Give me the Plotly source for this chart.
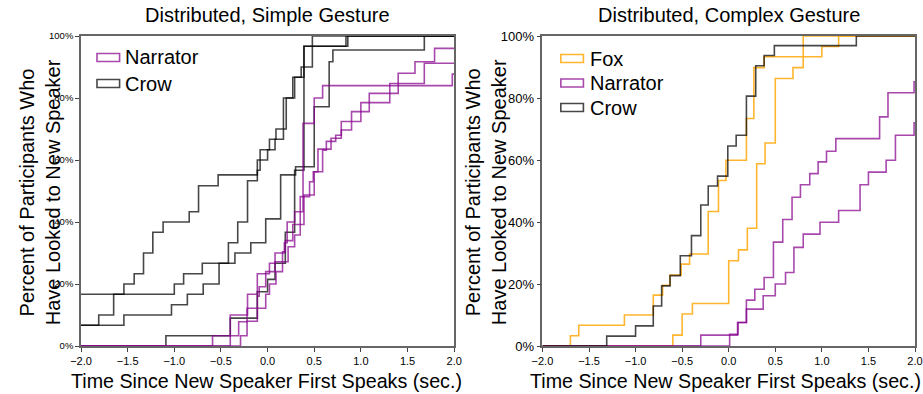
import plotly.graph_objects as go

# ---------------- data (time in sec, cumulative percent) ----------------
# Left panel: Distributed, Simple Gesture
simple_crow_a_t = [-2.0, -1.00, -0.90, -0.70, -0.42, -0.32, -0.215, -0.11, -0.08, 0.0, 0.08, 0.17, 0.27, 0.36, 0.48]
simple_crow_a_p = [16.7, 20.0, 23.3, 26.7, 33.3, 40.0, 53.3, 56.7, 60.0, 63.3, 66.7, 80.0, 86.7, 90.0, 100.0]

simple_crow_b_t = [-2.0, -1.81, -1.65, -1.54, -1.43, -1.33, -1.23, -1.12, -0.84, -0.74, -0.53, -0.11, -0.08, 0.02, 0.09, 0.20, 0.29, 0.39, 0.86]
simple_crow_b_p = [6.7, 10.0, 16.7, 20.0, 23.3, 30.0, 36.7, 40.0, 43.3, 51.7, 55.2, 60.0, 63.3, 66.7, 70.0, 80.0, 86.7, 96.7, 100.0]

simple_crow_c_t = [-2.0, -1.54, -1.03, -0.86, -0.69, -0.52, -0.35, -0.18, -0.02, 0.14, 0.30, 0.50, 0.66, 0.70, 1.68]
simple_crow_c_p = [6.7, 10.0, 13.3, 16.7, 20.0, 26.7, 30.0, 33.3, 41.0, 55.2, 57.8, 77.2, 91.7, 95.5, 100.0]

simple_crow_d_t = [-2.0, -1.09, -0.40, -0.11, 0.0, 0.08, 0.19, 0.29, 0.39, 0.84]
simple_crow_d_p = [0.0, 3.3, 9.0, 17.5, 21.5, 26.7, 36.7, 56.7, 96.7, 100.0]

simple_narr_a_t = [-2.0, -0.59, -0.40, -0.215, -0.11, 0.02, 0.08, 0.18, 0.21, 0.29, 0.38, 0.50, 0.59, 1.98]
simple_narr_a_p = [0.0, 3.3, 10.0, 16.7, 23.3, 26.7, 30.0, 33.3, 40.0, 43.3, 71.8, 80.0, 84.0, 87.7]

simple_narr_b_t = [-2.0, -0.40, -0.31, -0.22, -0.11, -0.09, -0.02, 0.08, 0.16, 0.19, 0.27, 0.39, 0.50, 0.59, 0.63, 0.73, 0.79, 0.90, 1.00, 1.09, 1.31, 1.40, 1.58, 1.79]
simple_narr_b_p = [0.0, 3.3, 7.8, 12.2, 16.1, 19.1, 24.0, 27.2, 30.4, 34.0, 39.2, 48.7, 56.2, 63.2, 66.0, 68.0, 72.4, 75.6, 78.5, 81.5, 84.7, 88.0, 91.7, 96.0]

simple_narr_c_t = [-2.0, -0.29, -0.22, -0.11, -0.02, 0.02, 0.09, 0.16, 0.22, 0.29, 0.35, 0.45, 0.49, 0.54, 0.68, 0.79, 0.90, 1.00, 1.09, 1.31, 1.40, 1.68]
simple_narr_c_p = [0.0, 3.3, 8.0, 12.2, 16.7, 20.0, 24.0, 27.2, 32.0, 35.8, 48.2, 53.0, 56.2, 63.5, 67.0, 69.7, 72.4, 75.6, 78.5, 81.5, 84.7, 91.2]

# Right panel: Distributed, Complex Gesture
complex_fox_a_t = [-2.0, -1.70, -1.61, -1.12, -0.81, -0.71, -0.63, -0.51, -0.42, -0.22, -0.11, -0.03, 0.19, 0.27, 0.38, 1.00, 1.18]
complex_fox_a_p = [0.0, 3.3, 6.7, 10.0, 16.4, 19.6, 22.9, 26.4, 29.7, 43.4, 53.4, 59.9, 73.4, 89.8, 93.3, 96.6, 100.0]

complex_fox_b_t = [-2.0, -0.60, -0.50, -0.39, 0.0, 0.105, 0.20, 0.30, 0.39, 0.50, 0.69, 0.80]
complex_fox_b_p = [0.0, 3.5, 10.3, 13.7, 27.5, 31.0, 38.0, 58.8, 65.5, 86.3, 89.8, 100.0]

complex_narr_a_t = [-2.0, -0.30, 0.095, 0.19, 0.28, 0.38, 0.48, 0.58, 0.68, 0.77, 0.87, 0.96, 1.05, 1.15, 1.62, 1.71, 1.99]
complex_narr_a_p = [0.0, 3.5, 7.6, 14.8, 18.3, 22.1, 33.5, 40.8, 48.0, 52.0, 55.6, 59.4, 62.8, 66.9, 73.9, 81.7, 85.2]

complex_narr_b_t = [-2.0, 0.01, 0.10, 0.19, 0.37, 0.50, 0.61, 0.70, 0.80, 0.98, 1.18, 1.41, 1.50, 1.69, 1.79, 1.99]
complex_narr_b_p = [0.0, 3.8, 7.6, 11.9, 16.2, 20.0, 23.7, 31.8, 36.1, 39.9, 43.7, 52.0, 56.1, 59.9, 68.0, 72.0]

complex_crow_t = [-2.0, -1.31, -1.00, -0.81, -0.72, -0.63, -0.52, -0.40, -0.30, -0.22, -0.12, -0.01, 0.08, 0.19, 0.29, 0.38, 0.49, 1.37]
complex_crow_p = [0.0, 3.2, 6.5, 12.9, 19.4, 22.7, 29.1, 35.6, 45.5, 51.6, 54.8, 64.5, 68.0, 80.6, 90.4, 93.7, 96.9, 100.0]

x_ticks = [-2.0, -1.5, -1.0, -0.5, 0.0, 0.5, 1.0, 1.5, 2.0]
y_ticks = [0, 20, 40, 60, 80, 100]
y_tick_text = [f"{v}%" for v in y_ticks]

simple_legend = ["Narrator", "Crow"]
complex_legend = ["Fox", "Narrator", "Crow"]

# ---------------- style ----------------
FONT = "Liberation Sans, Arial, sans-serif"
C_CROW = "rgba(0,0,0,0.72)"
C_NARR = "rgba(135,0,140,0.72)"
C_FOX = "rgba(255,165,0,0.82)"
COLORS = {"Crow": C_CROW, "Narrator": C_NARR, "Fox": C_FOX}
LW = 1.6
X_END = 2.0

W, H = 923, 394
ML, MR, MT, MB = 80.7, 8, 36, 48
PW = W - ML - MR
PH = H - MT - MB


def px_x(px):
    return (px - ML) / PW


def px_y(py):
    return 1 - (py - MT) / PH


fig = go.Figure()


def add_step(t, p, color, xa, ya):
    fig.add_trace(go.Scatter(
        x=list(t) + [X_END], y=list(p) + [p[-1]], mode="lines",
        line=dict(color=color, width=LW, shape="hv"),
        xaxis=xa, yaxis=ya, showlegend=False, hoverinfo="skip"))


for t, p in [(simple_crow_a_t, simple_crow_a_p), (simple_crow_b_t, simple_crow_b_p),
             (simple_crow_c_t, simple_crow_c_p), (simple_crow_d_t, simple_crow_d_p)]:
    add_step(t, p, C_CROW, "x", "y")
for t, p in [(simple_narr_a_t, simple_narr_a_p), (simple_narr_b_t, simple_narr_b_p),
             (simple_narr_c_t, simple_narr_c_p)]:
    add_step(t, p, C_NARR, "x", "y")

for t, p in [(complex_fox_a_t, complex_fox_a_p), (complex_fox_b_t, complex_fox_b_p)]:
    add_step(t, p, C_FOX, "x2", "y2")
for t, p in [(complex_narr_a_t, complex_narr_a_p), (complex_narr_b_t, complex_narr_b_p)]:
    add_step(t, p, C_NARR, "x2", "y2")
add_step(complex_crow_t, complex_crow_p, C_CROW, "x2", "y2")

shapes = []
annotations = []


def legend_block(names, box_x0, box_x1, text_x, centers, size):
    for name, cy in zip(names, centers):
        shapes.append(dict(type="rect", xref="paper", yref="paper",
                           x0=px_x(box_x0), x1=px_x(box_x1), y0=px_y(cy + 4), y1=px_y(cy - 4),
                           line=dict(color=COLORS[name], width=LW), fillcolor="rgba(0,0,0,0)"))
        annotations.append(dict(text=name, x=px_x(text_x), y=px_y(cy), xref="paper", yref="paper",
                                xanchor="left", yanchor="middle", showarrow=False,
                                font=dict(size=size, family=FONT, color="#000")))


legend_block(simple_legend, 96.7, 119.3, 123, [57.5, 83.5], 20)
legend_block(complex_legend, 560.7, 583.3, 588, [58.5, 83, 107.5], 20)


def text(t, x, y, size, angle=0):
    annotations.append(dict(text=t, x=px_x(x), y=px_y(y), xref="paper", yref="paper",
                            xanchor="center", yanchor="middle", showarrow=False, textangle=angle,
                            font=dict(size=size, family=FONT, color="#000")))


text("Distributed, Simple Gesture", 267, 15, 20)
text("Distributed, Complex Gesture", 728.5, 15, 20)
text("Percent of Participants Who<br>Have Looked to New Speaker", 40, 192, 20, -90)
text("Percent of Participants Who<br>Have Looked to New Speaker", 486, 192, 20, -90)
text("Time Since New Speaker First Speaks (sec.)", 266.5, 381, 19.7)
text("Time Since New Speaker First Speaks (sec.)", 725, 381, 19.7)

common_x = dict(range=[-2, 2], tickvals=x_ticks, tickformat=".1f", ticks="outside", ticklen=4,
                tickcolor="#444", showgrid=False, zeroline=False, showline=True,
                linecolor="#666", linewidth=1.5, mirror=True,
                tickfont=dict(size=11, color="#000", family=FONT))
common_y = dict(range=[0, 100], tickvals=y_ticks, ticktext=y_tick_text, ticks="outside", ticklen=4,
                tickcolor="#444", showgrid=False, zeroline=False, showline=True,
                linecolor="#666", linewidth=1.5, mirror=True)

fig.update_layout(
    width=W, height=H, margin=dict(l=ML, r=MR, t=MT, b=MB, autoexpand=False),
    paper_bgcolor="white", plot_bgcolor="white",
    font=dict(family=FONT, color="#000"),
    showlegend=False,
    xaxis=dict(domain=[0, px_x(454)], anchor="y", **common_x),
    yaxis=dict(domain=[0, 1], anchor="x", tickfont=dict(size=9.5, color="#000", family=FONT), **common_y),
    xaxis2=dict(domain=[px_x(542.3), 1], anchor="y2", **common_x),
    yaxis2=dict(domain=[0, 1], anchor="x2", tickfont=dict(size=13, color="#000", family=FONT), **common_y),
    shapes=shapes,
    annotations=annotations,
)

# remove the browser's default 8px page margin so the figure sits at the window origin
fig.write_html("out.html", config={"displayModeBar": False},
               post_script="document.body.style.margin='0';document.body.style.overflow='hidden';")
